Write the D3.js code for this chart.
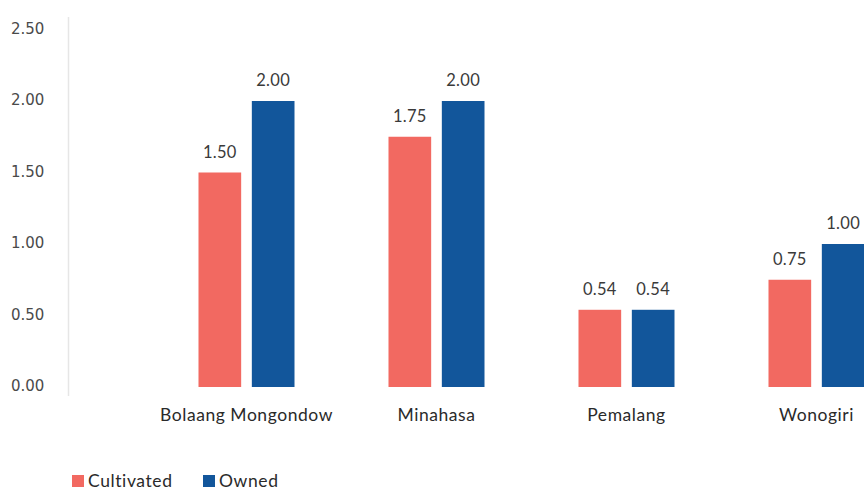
<!DOCTYPE html>
<html>
<head>
<meta charset="utf-8">
<script src="https://cdn.jsdelivr.net/npm/d3@7"></script>
<style>
  html, body { margin: 0; padding: 0; background: #fff; }
  svg { display: block; }
</style>
</head>
<body>
<svg id="chart" width="864" height="490"></svg>
<script>
// Average land area per household, by district
const categories = ["Bolaang Mongondow", "Minahasa", "Pemalang", "Wonogiri"];
const seriesNames = ["Cultivated", "Owned"];
const cultivated = [1.50, 1.75, 0.54, 0.75];
const owned = [2.00, 2.00, 0.54, 1.00];
const yTicks = [0, 0.5, 1.0, 1.5, 2.0, 2.5];
const colors = ["#F26961", "#12569B"];

const seriesValues = [cultivated, owned];
const rows = categories.map((c, i) => ({
  category: c,
  values: seriesNames.map((s, j) => ({ series: s, value: seriesValues[j][i] }))
}));

const svg = d3.select("#chart");
const labelFont = "'Lato', 'Open Sans', sans-serif";

const y = d3.scaleLinear().domain([0, 2.5]).range([387, 29.5]);
const x0 = d3.scaleBand().domain(categories).range([151.5, 911.5]);
const x1 = d3.scaleBand().domain(seriesNames).range([0, 96]).paddingInner(0.2);
const color = d3.scaleOrdinal().domain(seriesNames).range(colors);

// vertical axis line
svg.append("line")
  .attr("x1", 68.5).attr("x2", 68.5)
  .attr("y1", 17).attr("y2", 396)
  .attr("stroke", "#e6e6e6").attr("stroke-width", 1.5);

// y tick labels
svg.append("g").selectAll("text")
  .data(yTicks)
  .join("text")
  .attr("x", 11)
  .attr("y", d => y(d) - 1)
  .attr("dy", "0.35em")
  .attr("font-family", "'DejaVu Sans', sans-serif")
  .attr("font-size", 15)
  .attr("fill", "#4a4a4a")
  .text(d => d3.format(".2f")(d));

// bar groups
const groups = svg.append("g").selectAll("g")
  .data(rows)
  .join("g")
  .attr("transform", d => `translate(${x0(d.category) + x0.bandwidth() / 2 - 48},0)`);

groups.selectAll("rect")
  .data(d => d.values)
  .join("rect")
  .attr("x", d => x1(d.series))
  .attr("y", d => y(d.value))
  .attr("width", x1.bandwidth())
  .attr("height", d => y(0) - y(d.value))
  .attr("fill", d => color(d.series));

groups.selectAll("text")
  .data(d => d.values)
  .join("text")
  .attr("x", d => x1(d.series) + x1.bandwidth() / 2)
  .attr("y", d => y(d.value) - 15)
  .attr("text-anchor", "middle")
  .attr("font-family", labelFont)
  .attr("font-size", 16.5)
  .attr("letter-spacing", 0.3)
  .attr("fill", "#3a3a3a")
  .text(d => d3.format(".2f")(d.value));

// category labels
svg.append("g").selectAll("text")
  .data(categories)
  .join("text")
  .attr("x", d => x0(d) + x0.bandwidth() / 2)
  .attr("y", 421)
  .attr("text-anchor", "middle")
  .attr("font-family", labelFont)
  .attr("font-size", 17.5)
  .attr("letter-spacing", 0.55)
  .attr("fill", "#2a2a2a")
  .text(d => d);

// legend
const legendX = [72, 203];
const legend = svg.append("g").selectAll("g")
  .data(seriesNames)
  .join("g")
  .attr("transform", (d, i) => `translate(${legendX[i]},475)`);
legend.append("rect")
  .attr("width", 12).attr("height", 12)
  .attr("fill", d => color(d));
legend.append("text")
  .attr("x", 16)
  .attr("y", 12)
  .attr("font-family", labelFont)
  .attr("font-size", 17.5)
  .attr("letter-spacing", 0.6)
  .attr("fill", "#2a2a2a")
  .text(d => d);
</script>
</body>
</html>
